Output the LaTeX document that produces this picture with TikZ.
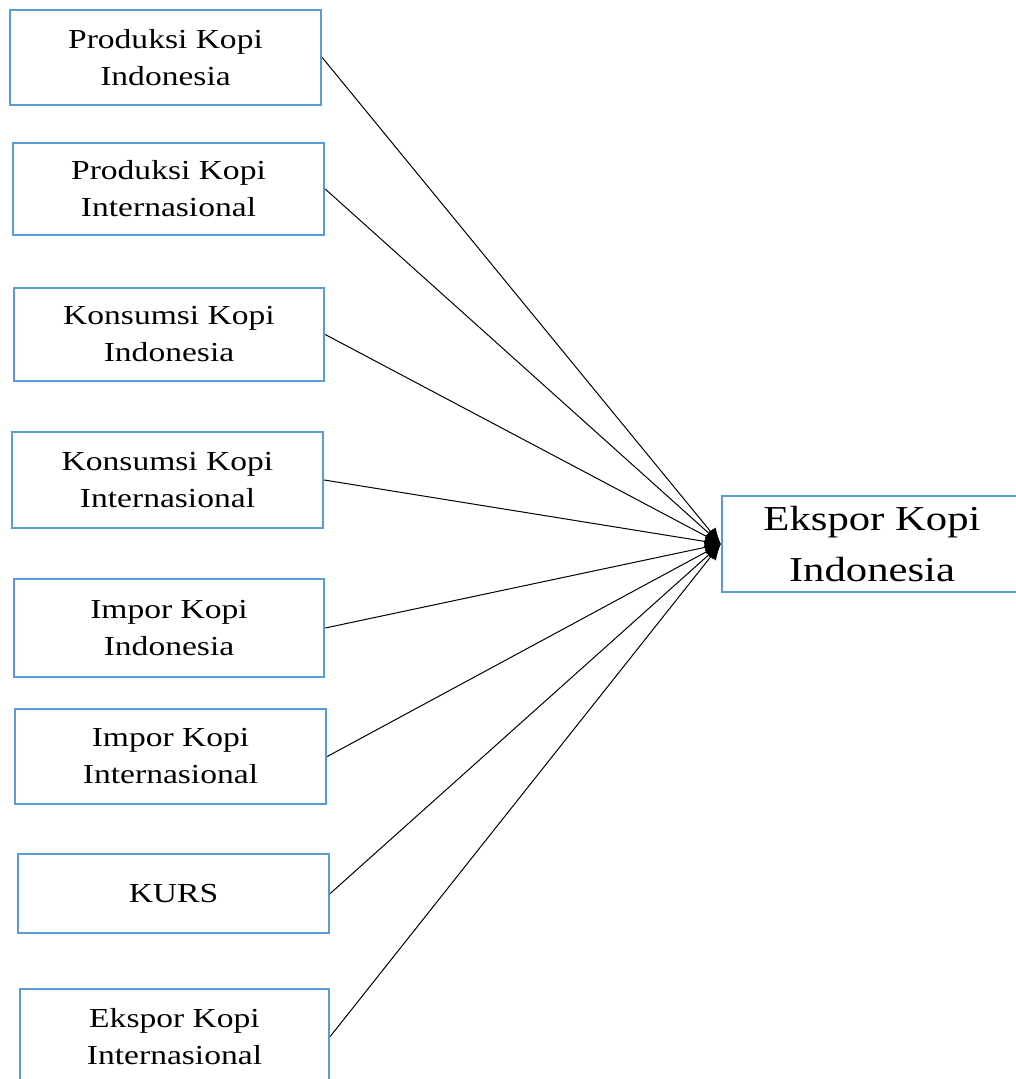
\documentclass[tikz,border=0pt]{standalone}
\usepackage{fontspec}
\setmainfont[FakeStretch=1.22]{Liberation Serif}
\usepackage{tikz}
\usetikzlibrary{arrows.meta}
\definecolor{boxBlue}{RGB}{91, 155, 213}

\begin{document}
\begin{tikzpicture}[x=1pt, y=-1pt, >={Latex[length=16pt, width=13pt]},
    varbox/.style={draw=boxBlue, line width=2.4pt, minimum width=311pt,
      minimum height=95pt, align=center, inner sep=0pt,
      font=\fontsize{27.5}{37}\selectfont},
    link/.style={->, line width=1pt, draw=black}]
  \useasboundingbox (0,0) rectangle (1016,1079);

  \node[varbox] (prodIdn) at (165.5,57.5) {Produksi Kopi\\Indonesia};
  \node[varbox, minimum height=92pt] (prodInt) at (168.5,189)
    {Produksi Kopi\\Internasional};
  \node[varbox, minimum height=93pt, minimum width=310pt] (konsIdn) at (169,334.5)
    {Konsumsi Kopi\\Indonesia};
  \node[varbox, minimum height=96pt] (konsInt) at (167.5,480)
    {Konsumsi Kopi\\Internasional};
  \node[varbox, minimum height=98pt, minimum width=310pt] (impIdn) at (169,628)
    {Impor Kopi\\Indonesia};
  \node[varbox] (impInt) at (170.5,756.5) {Impor Kopi\\Internasional};
  \node[varbox, minimum height=79pt] (kurs) at (173.5,893.5) {KURS};
  \node[varbox, minimum width=309pt] (ekspInt) at (174.5,1036.5)
    {Ekspor Kopi\\Internasional};

  % kotak tujuan terpotong di tepi kanan
  \node[varbox, minimum width=310pt, minimum height=96pt,
        font=\fontsize{35}{51}\selectfont] (ekspIdn) at (877,544)
    {\hspace*{-10pt}Ekspor Kopi\\\hspace*{-10pt}Indonesia};

  \foreach \src in {prodIdn, prodInt, konsIdn, konsInt, impIdn, impInt, kurs, ekspInt}
    \draw[link] (\src.east) -- (ekspIdn.west);
\end{tikzpicture}
\end{document}
